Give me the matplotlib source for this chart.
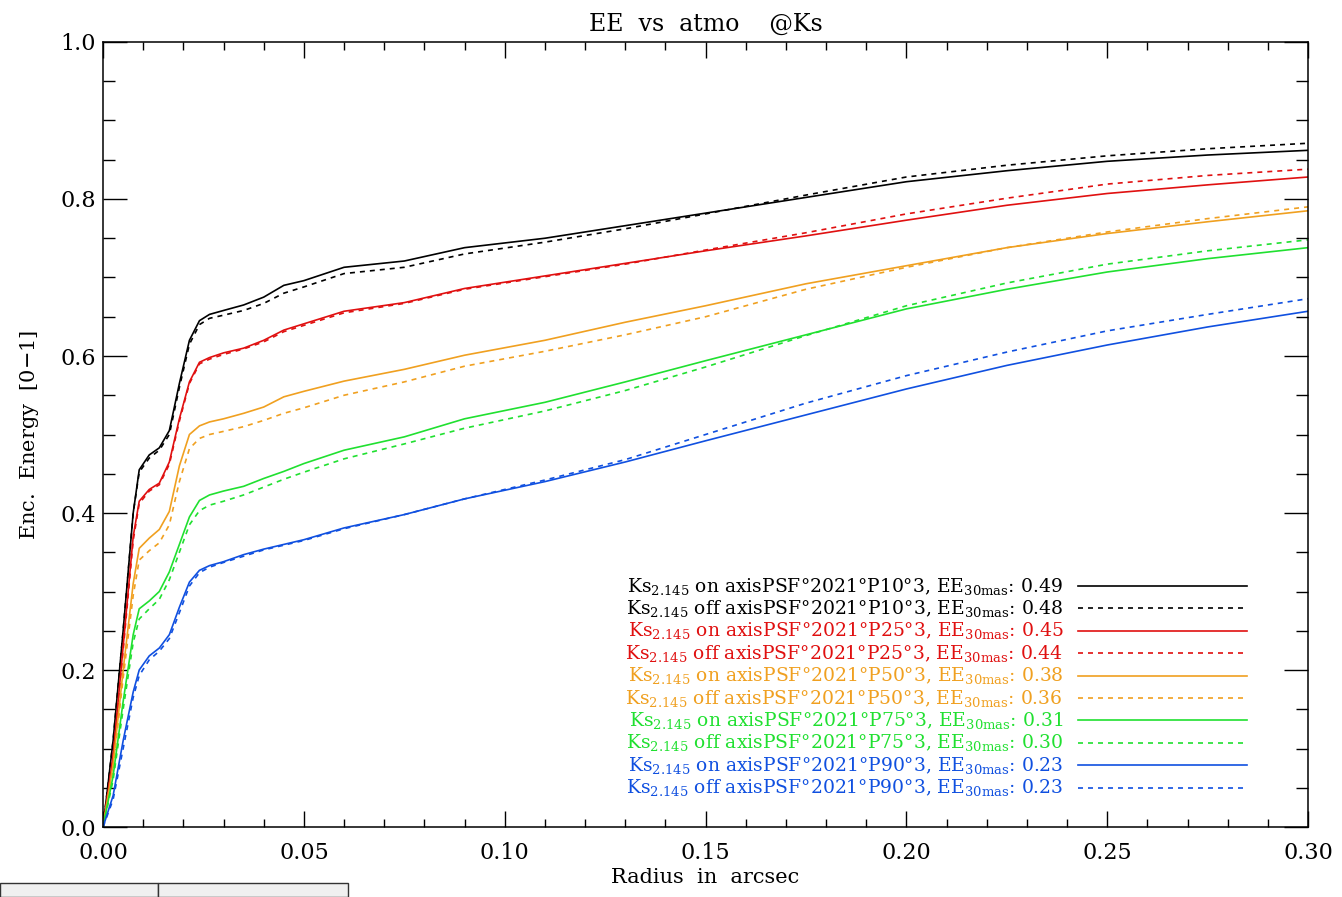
import matplotlib
matplotlib.use('Agg')
import matplotlib.pyplot as plt
from matplotlib.patches import Rectangle
from matplotlib.ticker import MultipleLocator, FormatStrFormatter

plt.rcParams['font.family'] = 'DejaVu Serif'
plt.rcParams['mathtext.fontset'] = 'dejavuserif'

# radius grid (arcsec)
radius = [0, 0.0025, 0.005, 0.0075, 0.009, 0.0115, 0.014, 0.0165, 0.019, 0.0215,
          0.024, 0.0265, 0.03, 0.035, 0.04, 0.045, 0.05, 0.06, 0.075, 0.09,
          0.11, 0.13, 0.15, 0.175, 0.2, 0.225, 0.25, 0.275, 0.3]

# encircled energy, on / off axis, per seeing percentile
p10_on = [0, 0.11, 0.25, 0.40, 0.455, 0.474, 0.483, 0.505, 0.565, 0.62,
          0.645, 0.653, 0.658, 0.665, 0.675, 0.69, 0.696, 0.713, 0.721, 0.738,
          0.75, 0.766, 0.782, 0.802, 0.822, 0.836, 0.848, 0.856, 0.862]
p10_off = [0, 0.11, 0.25, 0.40, 0.452, 0.47, 0.48, 0.5, 0.56, 0.615,
           0.64, 0.648, 0.652, 0.658, 0.667, 0.68, 0.688, 0.705, 0.713, 0.73,
           0.745, 0.762, 0.781, 0.805, 0.828, 0.843, 0.855, 0.864, 0.871]
p25_on = [0, 0.09, 0.23, 0.37, 0.415, 0.43, 0.438, 0.465, 0.52, 0.567,
          0.592, 0.598, 0.604, 0.61, 0.62, 0.633, 0.641, 0.657, 0.668, 0.686,
          0.702, 0.718, 0.734, 0.753, 0.773, 0.792, 0.807, 0.818, 0.828]
p25_off = [0, 0.09, 0.225, 0.365, 0.412, 0.428, 0.436, 0.462, 0.517, 0.565,
           0.59, 0.596, 0.602, 0.609, 0.618, 0.631, 0.639, 0.655, 0.667, 0.685,
           0.701, 0.717, 0.735, 0.757, 0.781, 0.801, 0.819, 0.83, 0.838]
p50_on = [0, 0.08, 0.2, 0.31, 0.355, 0.368, 0.379, 0.402, 0.46, 0.5,
          0.511, 0.516, 0.52, 0.527, 0.535, 0.548, 0.555, 0.568, 0.583, 0.601,
          0.62, 0.643, 0.664, 0.692, 0.715, 0.738, 0.756, 0.771, 0.785]
p50_off = [0, 0.075, 0.19, 0.295, 0.34, 0.352, 0.362, 0.385, 0.44, 0.482,
           0.495, 0.5, 0.504, 0.51, 0.518, 0.527, 0.534, 0.55, 0.567, 0.587,
           0.606, 0.627, 0.65, 0.685, 0.713, 0.738, 0.758, 0.775, 0.79]
p75_on = [0, 0.065, 0.16, 0.245, 0.278, 0.288, 0.3, 0.325, 0.36, 0.395,
          0.416, 0.423, 0.428, 0.434, 0.444, 0.453, 0.463, 0.48, 0.497, 0.52,
          0.541, 0.567, 0.594, 0.627, 0.66, 0.685, 0.707, 0.724, 0.738]
p75_off = [0, 0.06, 0.15, 0.235, 0.265, 0.278, 0.29, 0.315, 0.35, 0.385,
           0.403, 0.41, 0.415, 0.423, 0.433, 0.443, 0.452, 0.469, 0.488, 0.508,
           0.53, 0.556, 0.586, 0.626, 0.664, 0.693, 0.717, 0.734, 0.748]
p90_on = [0, 0.04, 0.11, 0.172, 0.2, 0.218, 0.228, 0.245, 0.28, 0.312,
          0.327, 0.333, 0.338, 0.347, 0.354, 0.36, 0.366, 0.381, 0.398, 0.418,
          0.44, 0.465, 0.492, 0.525, 0.558, 0.588, 0.614, 0.637, 0.657]
p90_off = [0, 0.035, 0.1, 0.165, 0.193, 0.213, 0.224, 0.24, 0.273, 0.307,
           0.324, 0.331, 0.337, 0.345, 0.353, 0.359, 0.365, 0.38, 0.398, 0.418,
           0.442, 0.468, 0.5, 0.54, 0.575, 0.605, 0.632, 0.653, 0.673]

percentiles = ['P10', 'P25', 'P50', 'P75', 'P90']
ee_30mas_on = [0.49, 0.45, 0.38, 0.31, 0.23]
ee_30mas_off = [0.48, 0.44, 0.36, 0.30, 0.23]
colors = ['black', '#e01010', '#f0a020', '#20e030', '#1050e0']
series = [(p10_on, p10_off), (p25_on, p25_off), (p50_on, p50_off),
          (p75_on, p75_off), (p90_on, p90_off)]

fig = plt.figure(figsize=(13.42, 8.97), dpi=100)
ax = fig.add_axes([0.0768, 0.078, 0.8979, 0.8752])

for i, (on, off) in enumerate(series):
    ax.plot(radius, on, color=colors[i], lw=1.2, ls='-')
    ax.plot(radius, off, color=colors[i], lw=1.2, ls=(0, (3, 3)))

ax.set_xlim(0, 0.3)
ax.set_ylim(0, 1.0)
ax.xaxis.set_major_locator(MultipleLocator(0.05))
ax.xaxis.set_minor_locator(MultipleLocator(0.01))
ax.yaxis.set_major_locator(MultipleLocator(0.2))
ax.yaxis.set_minor_locator(MultipleLocator(0.05))
ax.xaxis.set_major_formatter(FormatStrFormatter('%.2f'))
ax.yaxis.set_major_formatter(FormatStrFormatter('%.1f'))
ax.tick_params(axis='x', which='both', direction='in', top=True, width=1.0, labelsize=16, pad=11)
ax.tick_params(axis='x', which='major', length=11.3)
ax.tick_params(axis='x', which='minor', length=5.6)
ax.tick_params(axis='y', which='both', direction='in', right=True, width=1.0, labelsize=16, pad=5)
ax.tick_params(axis='y', which='major', length=17.4)
ax.tick_params(axis='y', which='minor', length=8.7)
for s in ax.spines.values():
    s.set_linewidth(1.1)

ax.set_title('EE  vs  atmo    @Ks', fontsize=17, pad=8)
ax.set_xlabel('Radius  in  arcsec', fontsize=15, labelpad=3)
ax.set_ylabel('Enc.  Energy  [0$-$1]', fontsize=15, labelpad=14)

# legend: coloured text on the left, line sample on the right
row = 0
for i in range(len(percentiles)):
    for state, ee, ls in [('on', ee_30mas_on[i], '-'), ('off', ee_30mas_off[i], (0, (3, 3)))]:
        y = 0.307 - row * 0.02853
        label = (r'Ks$_{\rm 2.145}$ ' + state + ' axisPSF°2021°' + percentiles[i]
                 + r'°3, EE$_{\rm 30mas}$: ' + f'{ee:.2f}')
        ax.text(0.7967, y, label, color=colors[i], fontsize=13.5, ha='right', va='center',
                transform=ax.transAxes)
        ax.plot([0.8091, 0.9494], [y, y], color=colors[i], lw=1.2, ls=ls, transform=ax.transAxes)
        row += 1

# leftover window widget at bottom left
fig.patches.append(Rectangle((0, 0), 158 / 1342, 14 / 897, transform=fig.transFigure,
                             facecolor='#f0f0f0', edgecolor='#333333', lw=1.0))
fig.patches.append(Rectangle((158 / 1342, 0), 190 / 1342, 14 / 897, transform=fig.transFigure,
                             facecolor='#f0f0f0', edgecolor='#333333', lw=1.0))

fig.savefig('out.png', dpi=100)
